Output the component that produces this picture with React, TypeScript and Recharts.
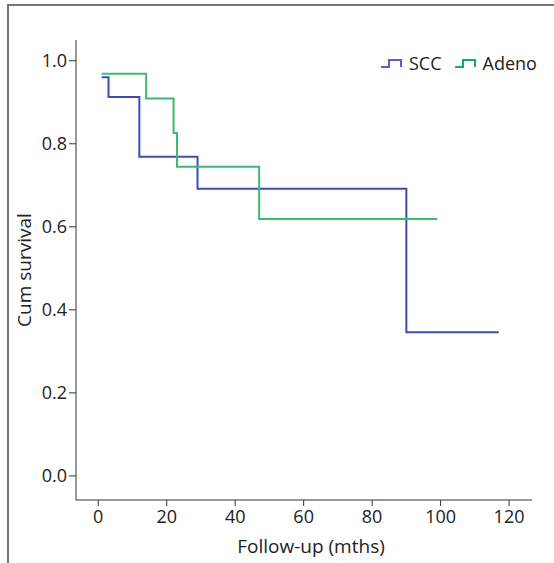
import { Line, LineChart, XAxis, YAxis, Label } from "recharts";

const sccTimes = [1, 3, 12, 29, 90, 117];
const sccSurvival = [0.96, 0.913, 0.769, 0.692, 0.346, 0.346];
const adenoTimes = [1, 14, 22, 23, 47, 99];
const adenoSurvival = [0.969, 0.909, 0.826, 0.745, 0.619, 0.619];
const xTicks = [0, 20, 40, 60, 80, 100, 120];
const yTicks = [0, 0.2, 0.4, 0.6, 0.8, 1.0];

const sccData = sccTimes.map((t, i) => ({ t, s: sccSurvival[i] }));
const adenoData = adenoTimes.map((t, i) => ({ t, s: adenoSurvival[i] }));

const FONT = "'Open Sans', Lato, sans-serif";
const BLUE = "#3b4db5";
const GREEN = "#3dba6e";

const StepIcon = ({ color }: { color: string }) => (
  <svg width={22} height={12} style={{ marginRight: 7 }}>
    <path d="M1,10 H9 V3 H21 V10" fill="none" stroke={color} strokeWidth={2} />
  </svg>
);

const LegendBox = () => (
  <div
    style={{
      position: "absolute",
      top: 51,
      left: 380,
      display: "flex",
      alignItems: "center",
      fontFamily: FONT,
      fontSize: 18,
      color: "#222",
    }}
  >
    <StepIcon color="#5a5ccc" />
    <span style={{ marginRight: 12 }}>SCC</span>
    <StepIcon color="#1aa860" />
    <span>Adeno</span>
  </div>
);

export default function App() {
  return (
    <div
      style={{
        position: "absolute",
        top: 0,
        left: 0,
        width: 554,
        height: 563,
        background: "#fff",
      }}
    >
      <div
        style={{
          position: "absolute",
          left: 7,
          top: 4,
          right: 0,
          bottom: 0,
          borderTop: "2px solid #777",
          borderLeft: "2px solid #777",
        }}
      />
      <LineChart
        width={554}
        height={563}
        margin={{ top: 40, right: 22, bottom: 23, left: 20 }}
        style={{ fontFamily: FONT }}
      >
        <XAxis
          dataKey="t"
          type="number"
          domain={[-6.5, 126.7]}
          ticks={xTicks}
          allowDataOverflow
          height={40}
          stroke="#333"
          tickSize={6}
          tick={{ fill: "#222", fontSize: 18, dy: 2 }}
        >
          <Label
            value="Follow-up (mths)"
            position="insideBottom"
            offset={-13}
            dx={7}
            style={{ fill: "#222", fontSize: 19, fontFamily: FONT }}
          />
        </XAxis>
        <YAxis
          dataKey="s"
          type="number"
          domain={[-0.058, 1.05]}
          ticks={yTicks}
          allowDataOverflow
          width={56}
          stroke="#333"
          tickSize={7}
          tickFormatter={(v: number) => v.toFixed(1)}
          tick={{ fill: "#222", fontSize: 18 }}
        >
          <Label
            value="Cum survival"
            angle={-90}
            position="insideLeft"
            offset={4}
            style={{ fill: "#222", fontSize: 19, fontFamily: FONT, textAnchor: "middle" }}
          />
        </YAxis>
        <Line
          data={sccData}
          dataKey="s"
          type="stepAfter"
          stroke={BLUE}
          strokeWidth={2}
          dot={false}
          isAnimationActive={false}
          name="SCC"
        />
        <Line
          data={adenoData}
          dataKey="s"
          type="stepAfter"
          stroke={GREEN}
          strokeWidth={2}
          dot={false}
          isAnimationActive={false}
          name="Adeno"
        />
      </LineChart>
      <LegendBox />
    </div>
  );
}
